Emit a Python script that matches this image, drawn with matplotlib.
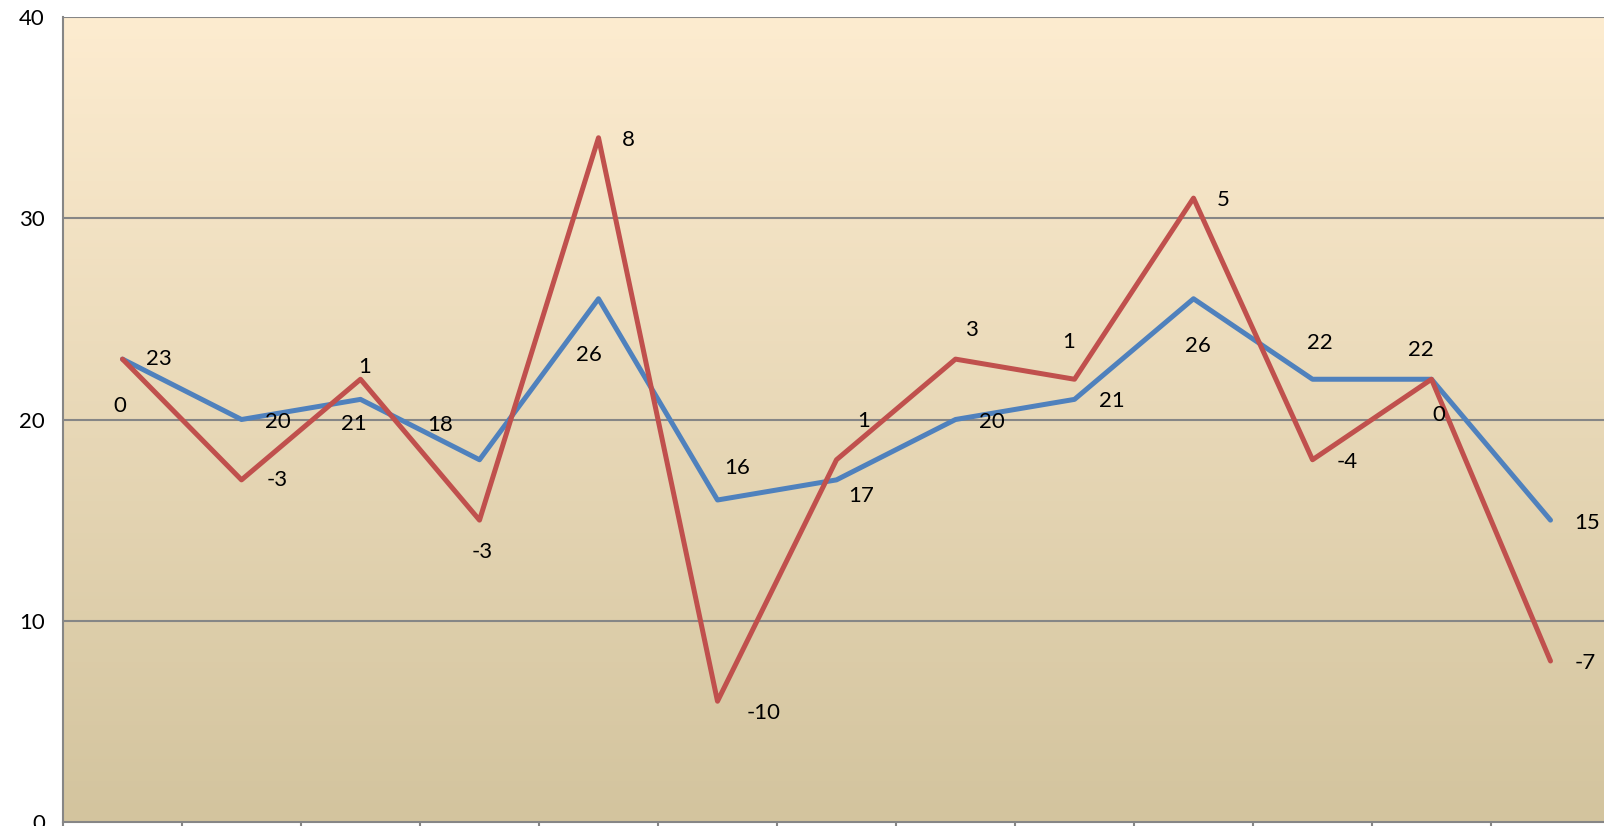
import matplotlib.pyplot as plt
import numpy as np

# values
blue = [23, 20, 21, 18, 26, 16, 17, 20, 21, 26, 22, 22, 15]
diff = [0, -3, 1, -3, 8, -10, 1, 3, 1, 5, -4, 0, -7]
red = [b + d for b, d in zip(blue, diff)]
yticks = [0, 10, 20, 30, 40]

# label offsets in pixels (dx right, dy down)
blue_off = [(36, 0), (36, 2), (-7, 25), (-39, -35), (-10, 56), (20, -32), (25, 16),
            (36, 2), (37, 2), (4, 47), (7, -36), (-11, -29), (37, 3)]
red_off = [(-3, 47), (36, 0), (4, -12), (3, 32), (30, 2), (46, 12), (27, -39),
           (16, -29), (-6, -37), (30, 2), (35, 2), (7, 36), (35, 2)]

plt.rcParams['font.family'] = ['Lato', 'DejaVu Sans']

fig = plt.figure(figsize=(16.04, 8.26), dpi=100)
ax = fig.add_axes([63 / 1604, 4 / 826, 1547 / 1604, 805 / 826])

n = len(blue)
x = np.arange(n)
ax.set_xlim(-0.5, n - 0.5)
ax.set_ylim(0, 40)

# gradient background
top = np.array([253, 236, 208]) / 255
bot = np.array([211, 196, 158]) / 255
t = np.linspace(0, 1, 256)[:, None]
grad = top * (1 - t) + bot * t
ax.imshow(grad[:, None, :], extent=(-0.5, n - 0.5, 0, 40), aspect='auto', zorder=0)

for v in yticks[1:]:
    ax.axhline(v, color='#868686', lw=1.5, zorder=1)

ax.plot(x, blue, color='#4F81BD', lw=3.6, zorder=3, solid_capstyle='round')
ax.plot(x, red, color='#C0504D', lw=3.6, zorder=3, solid_capstyle='round')

for i in range(n):
    ax.annotate(str(blue[i]), (x[i], blue[i]), xytext=(blue_off[i][0], -blue_off[i][1]),
                textcoords='offset pixels', ha='center', va='center', fontsize=16, zorder=4)
    ax.annotate(str(diff[i]), (x[i], red[i]), xytext=(red_off[i][0], -red_off[i][1]),
                textcoords='offset pixels', ha='center', va='center', fontsize=16, zorder=4)

ax.set_yticks(yticks)
ax.set_yticklabels([str(v) for v in yticks])
ax.set_xticks(np.arange(n + 1) - 0.5)
ax.set_xticklabels([])
ax.tick_params(axis='y', length=0, pad=13, labelsize=16)
ax.tick_params(axis='x', length=8, width=1.5, color='#868686', direction='out')

for s in ['top', 'right']:
    ax.spines[s].set_visible(False)
for s in ['left', 'bottom']:
    ax.spines[s].set_color('#868686')
    ax.spines[s].set_linewidth(1.5)

fig.savefig('out.png', dpi=100)
